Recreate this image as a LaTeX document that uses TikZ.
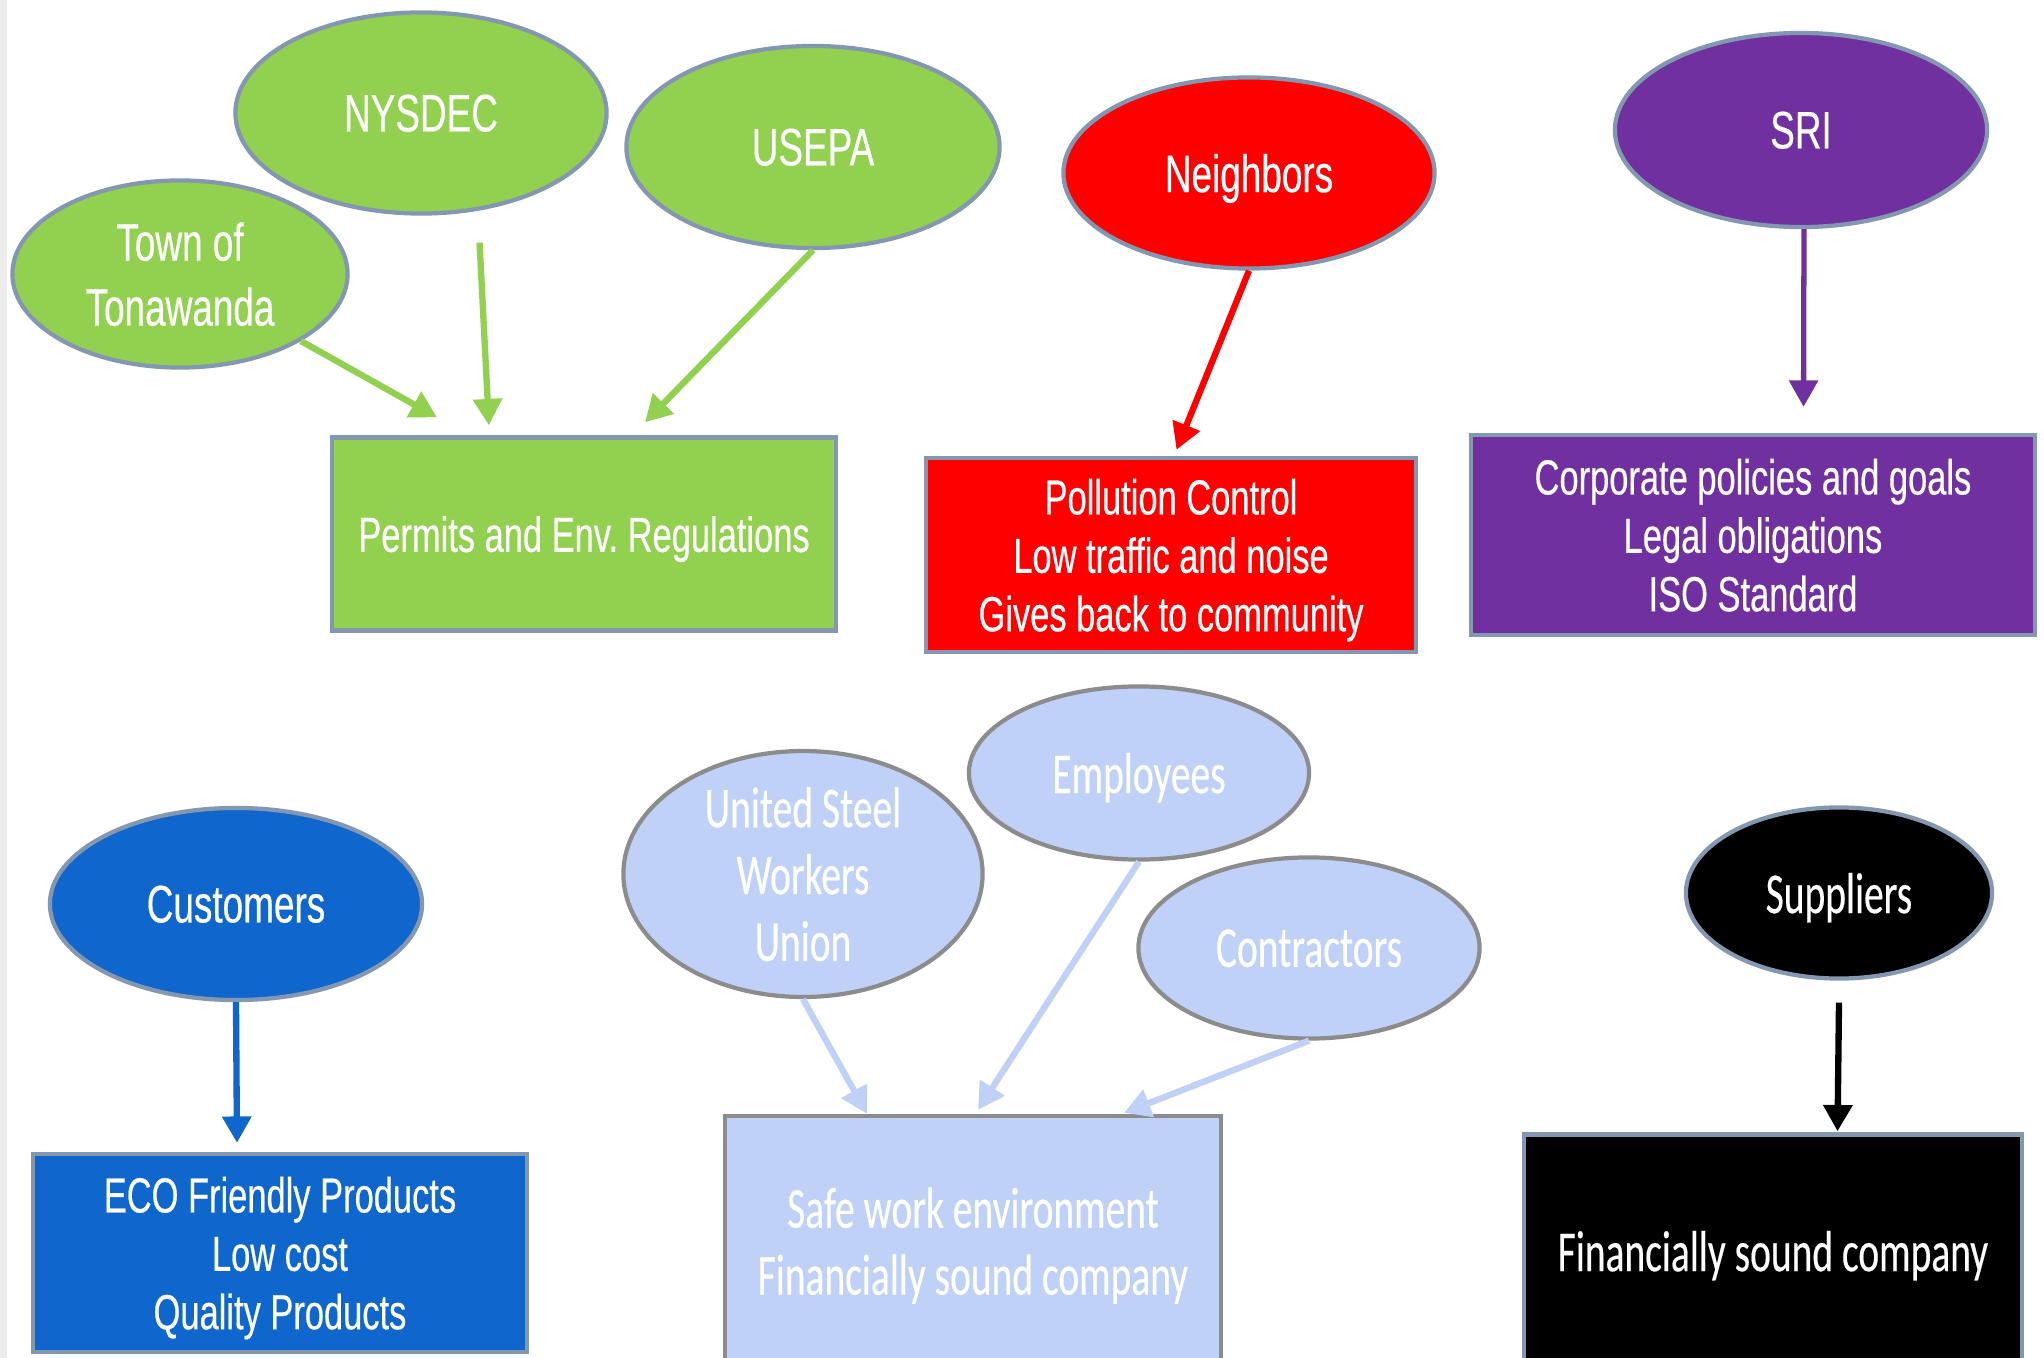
\documentclass[tikz,border=0pt]{standalone}
\usepackage{fontspec}
\usetikzlibrary{calc,positioning,arrows.meta,shapes}
\newfontfamily\narrowfont[FakeStretch=0.7,FakeBold=0.4]{Liberation Sans}
\newfontfamily\calfont[FakeStretch=0.68,FakeBold=0.3]{Carlito}
\definecolor{grn}{HTML}{92D050}
\definecolor{rd}{HTML}{FF0000}
\definecolor{prp}{HTML}{7030A0}
\definecolor{blu}{HTML}{0F66CC}
\definecolor{lbl}{HTML}{C0D1F7}
\definecolor{bord}{HTML}{8497B0}
\begin{document}
\begin{tikzpicture}[x=0.01cm, y=-0.01cm,
ell/.style={draw=bord, ellipse, line width=1.2pt, inner sep=0pt, text depth=0pt, text=white, align=center, font=\narrowfont\fontsize{15}{18.5}\selectfont},
bx/.style={draw=bord, rectangle, line width=1.2pt, inner sep=0pt, text depth=0pt, text=white, align=center, font=\narrowfont\fontsize{14}{16.6}\selectfont},
cal/.style={font=\calfont\fontsize{16.5}{19}\selectfont},
arr/.style={line width=1.8pt, -{Triangle[length=7.5pt,width=8pt]}}]
\useasboundingbox (0,0) rectangle (2044,1358);
\fill[white] (0,0) rectangle (2044,1358);
\fill[black!7] (0,0) rectangle (7,1358);
% regulators
\node[ell, fill=grn, minimum width=3.35cm, minimum height=1.87cm] (town) at (180,274) {Town of\\Tonawanda};
\node[ell, fill=grn, minimum width=3.71cm, minimum height=2.01cm] (nysdec) at (421,113) {NYSDEC};
\node[ell, fill=grn, minimum width=3.73cm, minimum height=2.02cm] (usepa) at (813,147) {USEPA};
\node[bx, fill=grn, minimum width=5.04cm, minimum height=1.93cm] (permits) at (584,534) {Permits and Env.\ Regulations};
\draw[arr, grn] (town.-29) -- ([xshift=-1.47cm, yshift=.18cm]permits.north);
\draw[arr, grn] ([xshift=.585cm, yshift=-.27cm]nysdec.south) -- ([xshift=-.95cm, yshift=.1cm]permits.north);
\draw[arr, grn] (usepa.south) -- ([xshift=.61cm, yshift=.13cm]permits.north);
% neighbors
\node[ell, fill=rd, minimum width=3.71cm, minimum height=1.91cm] (neigh) at (1249,173) {Neighbors};
\node[bx, fill=rd, minimum width=4.89cm, minimum height=1.94cm] (pollution) at (1171,555) {Pollution Control\\Low traffic and noise\\Gives back to community};
\draw[arr, rd] (neigh.south) -- ([xshift=.055cm, yshift=.06cm]pollution.north);
% SRI
\node[ell, fill=prp, minimum width=3.72cm, minimum height=1.94cm] (sri) at (1801,130) {SRI};
\node[bx, fill=prp, minimum width=5.63cm, minimum height=2cm] (corp) at (1753,535) {Corporate policies and goals\\Legal obligations\\ISO Standard};
\draw[arr, prp, line width=1.5pt] ([xshift=.03cm]sri.south) -- ([xshift=.505cm, yshift=.26cm]corp.north);
% customers
\node[ell, fill=blu, minimum width=3.72cm, minimum height=1.92cm] (cust) at (236,904) {Customers};
\node[bx, fill=blu, minimum width=4.94cm, minimum height=1.98cm] (eco) at (280,1253) {ECO Friendly Products\\Low cost\\Quality Products};
\draw[arr, blu] (cust.south) -- ([xshift=-.43cm, yshift=.09cm]eco.north);
% workforce
\node[ell, cal, fill=lbl, draw=black!45, minimum width=3.59cm, minimum height=2.01cm] (union) at (803,874) {United Steel\\Workers\\Union};
\node[ell, cal, fill=lbl, draw=black!45, minimum width=3.4cm, minimum height=1.73cm] (empl) at (1139,773) {Employees};
\node[ell, cal, fill=lbl, draw=black!45, minimum width=3.41cm, minimum height=1.81cm] (contr) at (1309,948) {Contractors};
\node[bx, cal, fill=lbl, draw=black!45, minimum width=4.96cm, minimum height=2.5cm] (safe) at (973,1241) {Safe work environment\\Financially sound company};
\draw[arr, lbl] (union.south) -- ([xshift=-1.06cm]safe.north);
\draw[arr, lbl] (empl.south) -- ([xshift=.05cm, yshift=.04cm]safe.north);
\draw[arr, lbl] (contr.south) -- ([xshift=1.51cm, yshift=.01cm]safe.north);
% suppliers
\node[ell, cal, fill=black, minimum width=3.06cm, minimum height=1.71cm] (supp) at (1839,893) {Suppliers};
\node[bx, cal, fill=black, minimum width=4.97cm, minimum height=2.33cm] (fin) at (1773,1251) {Financially sound company};
\draw[arr, black] ([yshift=-.22cm]supp.south) -- ([xshift=.645cm, yshift=.01cm]fin.north);
\end{tikzpicture}
\end{document}
